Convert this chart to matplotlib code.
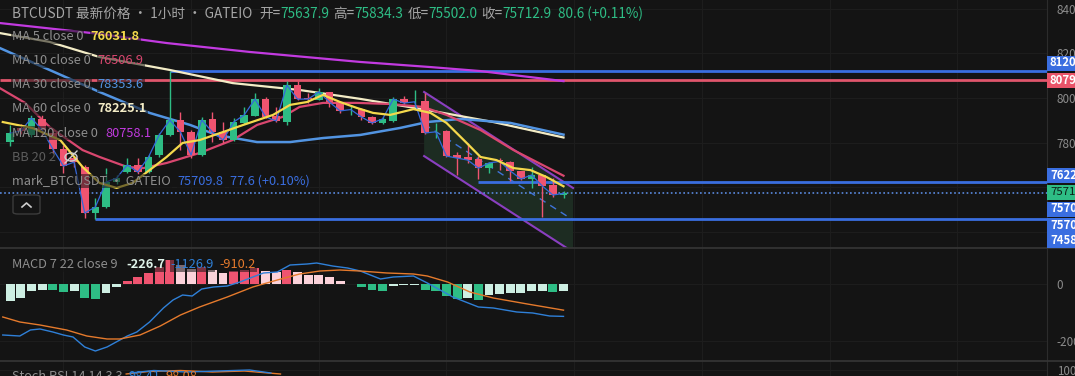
import matplotlib
matplotlib.use("Agg")
import matplotlib.pyplot as plt
from matplotlib.patches import Rectangle, FancyBboxPatch, Polygon, Ellipse
from matplotlib.lines import Line2D
import numpy as np

plt.rcParams.update({
    "font.family": ["Noto Sans CJK SC", "DejaVu Sans"],
    "axes.unicode_minus": False,
})

# colours
BG = "#141414"
GRID = "#1d1d1d"
SEP = "#363636"
UP = "#2ebd85"
DOWN = "#ef5470"
UP_LIGHT = "#cdeee2"
DOWN_LIGHT = "#fbd2da"
BLUE = "#3a6ee0"
MA5_C = "#f4d94c"
MA10_C = "#d9476f"
MA30_C = "#5294e2"
MA60_C = "#f3ecc6"
MA120_C = "#c23ae0"

# ── candles (1h BTCUSDT) ─────────────────────────────────────────────────────
opens = [78020, 78650, 78340, 79060, 78430, 77710, 77300, 76900, 74830, 75100,
         76220, 76670, 76990, 76670, 77440, 78340, 79010, 78470, 77440, 79060,
         78470, 78110, 78880, 79190, 79950, 79190, 78920, 80580, 80000, 79910,
         80270, 79820, 79440, 79500, 79150, 78880, 78970, 79950, 79800, 79870,
         78450, 78520, 77440, 77350, 77260, 76850, 77210, 77120, 76720, 76360,
         76540, 76090, 75637.9]
highs = [78790, 78830, 79240, 79240, 78650, 77890, 77390, 76990, 75510, 76850,
         76540, 77300, 77300, 77440, 78430, 81203.8, 79370, 78560, 79150, 79370,
         78920, 79100, 79600, 80230, 80050, 79600, 80760, 80760, 80230, 80450,
         80290, 79870, 79690, 79550, 79190, 79150, 80050, 80090, 80360, 80230,
         78880, 78540, 77570, 77980, 77390, 77120, 77300, 77150, 76740, 76900,
         76560, 76400, 75834.3]
lows = [77840, 78380, 78250, 78340, 77530, 76630, 76900, 74620, 74580, 75060,
        76130, 76640, 76580, 76640, 77350, 78290, 77660, 77300, 77400, 78020,
        77980, 78080, 78850, 79170, 79120, 78940, 78790, 79930, 79770, 79890,
        79600, 79330, 79240, 79010, 78850, 78830, 78940, 79730, 79600, 78400,
        78200, 77370, 76540, 77080, 76360, 76630, 76760, 76270, 76310, 75950,
        74650, 75550, 75502.0]
closes = [78430, 78520, 79100, 78560, 77710, 76940, 77120, 74830, 75100, 76220,
          76400, 76990, 76670, 77350, 78340, 79010, 78470, 77440, 79010, 78470,
          78110, 78920, 79240, 79950, 79150, 78970, 80580, 79950, 79950, 80270,
          79820, 79420, 79480, 79150, 78880, 79060, 79950, 79770, 79830, 78430,
          78480, 77390, 77300, 77210, 76850, 77080, 77150, 76720, 76360, 76540,
          76050, 75640, 75712.9]

# ── moving averages (bar index, price) ───────────────────────────────────────
ma5_t = [-0.7, 2.1, 4.7, 6.8, 8.4, 10.0, 11.5, 13.1, 14.7, 16.2, 17.8, 20.0,
         21.9, 24.7, 26.3, 27.9, 29.4, 31.0, 32.6, 34.1, 35.7, 37.9, 39.5,
         41.0, 42.9, 44.2, 45.7, 47.3, 48.9, 50.4, 52.0]
ma5_v = [78920, 78650, 78110, 76900, 76180, 75960, 76180, 76760, 77350, 77980,
         78110, 78470, 78790, 79240, 79690, 79820, 80140, 79820, 79550, 79330,
         79240, 79500, 79330, 78880, 77980, 77350, 77210, 76850, 76760, 76450,
         76031.8]
ma10_t = [-1.0, 1.4, 3.7, 6.8, 8.4, 11.0, 12.5, 14.7, 17.8, 20.9, 23.2, 25.6,
          27.2, 29.4, 32.6, 35.7, 38.8, 41.0, 44.2, 47.3, 52.0]
ma10_v = [80450, 79780, 78700, 77660, 77350, 76900, 76850, 77080, 77530, 78110,
          78790, 79150, 79600, 79780, 79780, 79730, 79600, 79240, 78560, 77660,
          76506.9]
ma30_t = [-1.0, 3.7, 8.4, 13.1, 16.9, 19.4, 23.2, 26.3, 29.4, 32.9, 36.6, 39.2,
          42.3, 47.0, 52.0]
ma30_v = [82250, 81260, 80270, 79330, 78790, 78340, 78020, 78020, 78200, 78340,
          78650, 78920, 79060, 78880, 78353.6]
ma60_t = [-1.0, 3.7, 8.4, 15.0, 20.9, 27.2, 32.9, 39.2, 45.4, 52.0]
ma60_v = [82920, 82520, 81840, 81260, 80670, 80360, 79960, 79460, 78920, 78225.1]
ma120_t = [-1.0, 8.4, 14.7, 22.5, 32.9, 39.5, 44.2, 52.0]
ma120_v = [83370, 82880, 82470, 82070, 81620, 81390, 81210, 80758.1]

# horizontal rays: price, first bar
ray_prices = [81203.8, 80795.0, 76225.0, 74580.0]
ray_start = [15, -1, 44, 8]
ray_colors = [BLUE, "#e0566c", BLUE, BLUE]
last_price = 75712.9

# parallel channel: anchor bars and upper-line prices, channel height
chan_t = [38.9, 52.9]
chan_upper = [80270, 75955]
chan_height = 2880

# ── MACD 7 22 9 ──────────────────────────────────────────────────────────────
macd_hist = [-603, -499, -255, -209, -215, -270, -250, -499, -510, -302,
             -93, 116, 232, 394, 580, 847, 673, 534, 580, 499,
             383, 464, 499, 557, 464, 418, 499, 418, 325, 320,
             232, 93, -12, -116, -197, -232, -81, -46, -23, -197,
             -255, -429, -510, -487, -545, -371, -348, -313, -310, -255,
             -250, -270, -226.7]
macd_t = [-0.7, 0.9, 1.9, 2.8, 4.0, 5.0, 5.9, 7.0, 8.0, 9.1, 11.0, 11.9, 13.1,
          14.4, 15.3, 16.2, 17.1, 18.0, 19.1, 20.4, 21.6, 22.8, 23.8, 25.1,
          26.3, 27.9, 28.8, 30.3, 31.7, 32.9, 34.8, 36.0, 37.9, 39.2, 41.6,
          44.0, 45.4, 47.6, 49.1, 50.7, 52.0]
macd_v = [-1775, -1810, -1600, -1566, -1670, -1775, -1844, -2192, -2332, -2192,
          -1810, -1670, -1322, -835, -557, -383, -418, -174, -104, -70,
          70, 244, 383, 418, 661, 696, 731, 626, 557, 452,
          174, 244, 278, 35, -452, -800, -835, -974, -1009, -1114, -1126.9]
sig_t = [-0.7, 0.9, 2.8, 5.3, 7.2, 9.1, 10.3, 12.2, 14.1, 16.0, 17.8, 20.4,
         22.8, 25.1, 27.2, 29.1, 31.0, 32.9, 35.4, 37.9, 39.2, 41.1, 43.2,
         45.4, 48.6, 52.0]
sig_v = [-1148, -1322, -1427, -1601, -1810, -1914, -1914, -1775, -1462, -1079,
         -800, -452, -104, 139, 348, 452, 487, 452, 383, 348,
         278, 70, -278, -487, -696, -910.2]

# Stoch RSI (only the top edge is visible)
stk_t = [11.3, 13.5, 16.5, 19.5, 22.5, 24.5]
stk_v = [97, 99.5, 98, 99, 100, 97]
std_t = [10.9, 13.0, 16.0, 19.0, 22.0, 25.4]
std_v = [96, 98.5, 99.5, 98, 99, 96]

# ── layout in pixels ─────────────────────────────────────────────────────────
PW, PH = 1075, 376
AXR = 1047                       # price scale starts here
XLIM = (-0.96, 97.44)


def fx(px):
    return px / PW


def fy(py):
    return 1 - py / PH


fig = plt.figure(figsize=(PW / 100, PH / 100), dpi=100, facecolor=BG)
ax = fig.add_axes([0, fy(248), fx(AXR), 248 / PH])
mac = fig.add_axes([0, fy(361), fx(AXR), 113 / PH])
sto = fig.add_axes([0, 0, fx(AXR), 15 / PH])

for a in (ax, mac, sto):
    a.set_facecolor(BG)
    a.set_xlim(*XLIM)
    for s in ("top", "bottom", "left"):
        a.spines[s].set_visible(False)
    a.spines["right"].set_color("#2c2c2c")
    a.yaxis.tick_right()
    a.tick_params(axis="y", length=0, pad=7, labelsize=8.4, labelcolor="#8c8c8c")
    a.set_xticks([5, 17, 29, 41, 53, 65, 77, 89])
    a.tick_params(axis="x", length=0, labelbottom=False)
    a.grid(True, color=GRID, lw=0.8)
    a.set_axisbelow(True)

# 74000 / 76000 labels sit under the price tags, so they stay blank
ax.set_ylim(73259, 84404)
ax.set_yticks([74000, 76000, 78000, 80000, 82000, 84000])
ax.set_yticklabels(["", "", "78000", "80000", "82000", "84000"])
mac.set_ylim(-2680, 1253)
mac.set_yticks([-2000, 0])
mac.set_yticklabels(["-2000", "0"])
sto.set_ylim(94, 109)
sto.set_yticks([100])
sto.set_yticklabels(["100"])

# channel
up_end = chan_upper
lo_end = [p - chan_height for p in chan_upper]
poly = Polygon([(chan_t[0], up_end[0]), (chan_t[1], up_end[1]),
                (chan_t[1], lo_end[1]), (chan_t[0], lo_end[0])],
               closed=True, fc="#1d2c22", ec="none", zorder=1)
ax.add_patch(poly)
ax.plot(chan_t, up_end, color="#8a3fc0", lw=1.5, zorder=2)
ax.plot(chan_t, lo_end, color="#8a3fc0", lw=1.5, zorder=2)
ax.plot(chan_t, [u - chan_height / 2 for u in up_end], color="#3f74d8",
        lw=1, ls=(0, (5, 4)), zorder=2)

# rays and last price line
for p, s, c in zip(ray_prices, ray_start, ray_colors):
    ax.hlines(p, s, XLIM[1], color=c, lw=2, zorder=3)
ax.axhline(last_price, color="#5a8ae0", lw=1.2, ls=(0, (1, 1.5)), zorder=3)

# moving averages
ax.plot(ma120_t, ma120_v, color=MA120_C, lw=1.6, zorder=4)
ax.plot(ma60_t, ma60_v, color=MA60_C, lw=1.6, zorder=4)
ax.plot(ma30_t, ma30_v, color=MA30_C, lw=1.8, zorder=4)
ax.plot(ma10_t, ma10_v, color=MA10_C, lw=1.6, zorder=4)
ax.plot(ma5_t, ma5_v, color=MA5_C, lw=1.6, zorder=6)

# candles
idx = np.arange(len(closes))
o = np.array(opens)
c = np.array(closes)
col = np.where(c >= o, UP, DOWN)
ax.vlines(idx, lows, highs, colors=col, lw=1, zorder=5)
body_lo = np.minimum(o, c)
body_h = np.maximum(np.abs(c - o), 30)
ax.bar(idx, body_h, bottom=body_lo, width=0.72, color=col, zorder=5)

# mark price line
ax.plot(idx, closes, color="#3468dc", lw=0.9, zorder=5)

# MACD
hist = np.array(macd_hist)
rising = np.diff(hist, prepend=hist[0] - 1) > 0
hcol = np.where(hist >= 0, np.where(rising, DOWN, DOWN_LIGHT),
                np.where(rising, UP_LIGHT, UP))
mac.bar(np.arange(len(hist)), hist, width=0.84, color=hcol, zorder=2)
mac.plot(macd_t, macd_v, color="#2f80d8", lw=1, zorder=3)
mac.plot(sig_t, sig_v, color="#e57a2c", lw=1, zorder=3)

sto.plot(std_t, std_v, color="#e57a2c", lw=1)
sto.plot(stk_t, stk_v, color="#2f80d8", lw=1)

# separators
for yy in (248, 361):
    fig.add_artist(Line2D([0, 1], [fy(yy), fy(yy)], color=SEP, lw=1.2))

# ── texts ────────────────────────────────────────────────────────────────────
rend = fig.canvas.get_renderer()


def row(x, y, parts, size=9, bg=False):
    for s, colr, w, gap in parts:
        kw = {}
        if bg:
            kw["bbox"] = dict(fc=BG, ec="none", alpha=0.55, pad=0.6)
        t = fig.text(fx(x), fy(y), s, color=colr, fontsize=size,
                     fontweight=w, va="center", ha="left", zorder=20, **kw)
        x += t.get_window_extent(renderer=rend).width + gap
    return x


row(12, 14, [("BTCUSDT 最新价格 · 1小时 · GATEIO", "#a6a6a6", "normal", 7),
             ("开=", "#a6a6a6", "normal", 0), ("75637.9", UP, "normal", 4),
             ("高=", "#a6a6a6", "normal", 0), ("75834.3", UP, "normal", 4),
             ("低=", "#a6a6a6", "normal", 0), ("75502.0", UP, "normal", 4),
             ("收=", "#a6a6a6", "normal", 0), ("75712.9", UP, "normal", 6),
             ("80.6 (+0.11%)", UP, "normal", 0)], size=9.8)

legend = [("MA 5 close 0", "76031.8", MA5_C, "bold"),
          ("MA 10 close 0", "76506.9", MA10_C, "normal"),
          ("MA 30 close 0", "78353.6", MA30_C, "normal"),
          ("MA 60 close 0", "78225.1", MA60_C, "bold"),
          ("MA 120 close 0", "80758.1", MA120_C, "normal")]
for k, (lab, val, vc, w) in enumerate(legend):
    row(12, 37 + 24 * k, [(lab, "#8e8e8e", "normal", 7), (val, vc, w, 0)],
        size=9.2, bg=True)
row(12, 157, [("BB 20 2", "#5c5c5c", "normal", 0)], size=9.2)
# hidden-indicator eye icon
fig.add_artist(Ellipse((fx(71), fy(157)), fx(12), 8 / PH, fc="none",
                       ec="#cfcfcf", lw=1))
fig.add_artist(Line2D([fx(65), fx(77)], [fy(163), fy(151)], color="#cfcfcf", lw=1))

row(12, 181, [("mark_BTCUSDT · GATEIO", "#8e8e8e", "normal", 7),
              ("75709.8", "#3a6ee0", "normal", 6),
              ("77.6 (+0.10%)", "#3a6ee0", "normal", 0)], size=9.2, bg=True)

# collapse button
fig.add_artist(FancyBboxPatch((fx(13), fy(214)), fx(27), 19 / PH,
                              boxstyle="round,pad=0,rounding_size=0.005",
                              fc=BG, ec="#3c3c3c", lw=1))
fig.add_artist(Line2D([fx(22), fx(26.5), fx(31)], [fy(207), fy(203), fy(207)],
                      color="#cfcfcf", lw=1.2))

row(12, 265, [("MACD 7 22 close 9", "#8e8e8e", "normal", 9),
              ("-226.7", "#dff3ea", "bold", 5),
              ("-1126.9", "#2f80d8", "normal", 6),
              ("-910.2", "#e57a2c", "normal", 0)], size=9.2, bg=True)
row(12, 376, [("Stoch RSI 14 14 3 3", "#8e8e8e", "normal", 6),
              ("98.41", "#2f80d8", "normal", 5),
              ("98.08", "#e57a2c", "normal", 0)], size=9.2)

# price tags on the scale
tag_y = [63, 80, 175, 192, 209, 225, 240]
tag_txt = ["81203.8", "80795.0", "76225.0", "75712.9", "75709.8", "75702.3", "74580.0"]
tag_fc = [BLUE, "#ea5469", BLUE, UP, BLUE, BLUE, BLUE]
tag_tc = ["white", "white", "white", "#0c1f16", "white", "white", "white"]
for yy, s, fc, tc in zip(tag_y, tag_txt, tag_fc, tag_tc):
    fig.add_artist(Rectangle((fx(AXR), fy(yy + 7.5)), fx(PW - AXR), 15 / PH,
                             fc=fc, ec="none", zorder=15))
    fig.text(fx(AXR + 3), fy(yy), s, color=tc, fontsize=8.2,
             fontweight="bold" if tc == "white" else "normal",
             va="center", ha="left", zorder=21)

fig.savefig("out.png", dpi=100, facecolor=BG)
